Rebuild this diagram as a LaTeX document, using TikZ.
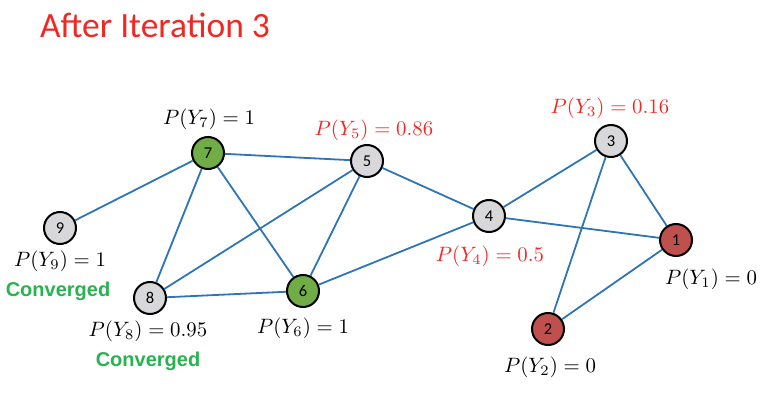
\documentclass[tikz,border=0pt]{standalone}
\usepackage{graphicx}
\usepackage{fontspec}
\setmainfont{Carlito}
\newfontfamily\arialfont{Liberation Sans}
\newcommand\plabel[1]{\scalebox{2.08}{\fontsize{10}{12}\selectfont$#1$}}
\definecolor{edgeblue}{RGB}{46,117,182}
\definecolor{ngray}{RGB}{216,216,218}
\definecolor{ngreen}{RGB}{112,173,71}
\definecolor{nred}{RGB}{192,80,77}
\definecolor{tred}{RGB}{240,40,36}
\definecolor{tgreen}{RGB}{40,178,80}
\tikzset{
  vnode/.style={circle, draw=black, line width=2pt, minimum size=32pt, inner sep=0pt, font=\fontsize{16.5}{18}\selectfont},
  gnode/.style={vnode, fill=ngray},
  grnode/.style={vnode, fill=ngreen},
  rnode/.style={vnode, fill=nred},
  edge/.style={draw=edgeblue, line width=1.8pt},
  plab/.style={inner sep=0pt},
  redlab/.style={plab, text=tred},
  conv/.style={font=\arialfont\bfseries\fontsize{20}{23}\selectfont, text=tgreen, inner sep=0pt}
}
\begin{document}
\begin{tikzpicture}[x=1pt,y=-1pt]
\useasboundingbox (0,0) rectangle (761,401);
\node[text=tred, font=\fontsize{35.5}{40}\selectfont, inner sep=0pt] (title) at (155,25) {After Iteration 3};
\node[grnode] (n7) at (208,153) {7};
\node[gnode] (n5) at (367,161) {5};
\node[gnode] (n9) at (60,228) {9};
\node[gnode] (n8) at (150,298) {8};
\node[grnode] (n6) at (303,291) {6};
\node[gnode] (n4) at (489,216) {4};
\node[gnode] (n3) at (611,141) {3};
\node[rnode] (n1) at (676,240) {1};
\node[rnode] (n2) at (548,329) {2};
\draw[edge] (n7) -- (n9);
\draw[edge] (n7) -- (n5);
\draw[edge] (n7) -- (n8);
\draw[edge] (n7) -- (n6);
\draw[edge] (n5) -- (n8);
\draw[edge] (n5) -- (n6);
\draw[edge] (n5) -- (n4);
\draw[edge] (n8) -- (n6);
\draw[edge] (n6) -- (n4);
\draw[edge] (n4) -- (n3);
\draw[edge] (n4) -- (n1);
\draw[edge] (n3) -- (n1);
\draw[edge] (n3) -- (n2);
\draw[edge] (n2) -- (n1);
\node[plab] (l7) at (209,119) {\plabel{P(Y_7)=1}};
\node[redlab] (l5) at (374,130) {\plabel{P(Y_5)=0.86}};
\node[redlab] (l3) at (610,108) {\plabel{P(Y_3)=0.16}};
\node[plab] (l9) at (60,261) {\plabel{P(Y_9)=1}};
\node[conv] (c9) at (58,291) {Converged};
\node[plab] (l8) at (148,331) {\plabel{P(Y_8)=0.95}};
\node[conv] (c8) at (148,361) {Converged};
\node[plab] (l6) at (303,328) {\plabel{P(Y_6)=1}};
\node[redlab] (l4) at (490,256) {\plabel{P(Y_4)=0.5}};
\node[plab] (l1) at (711,279) {\plabel{P(Y_1)=0}};
\node[plab] (l2) at (550,367) {\plabel{P(Y_2)=0}};
\end{tikzpicture}
\end{document}
